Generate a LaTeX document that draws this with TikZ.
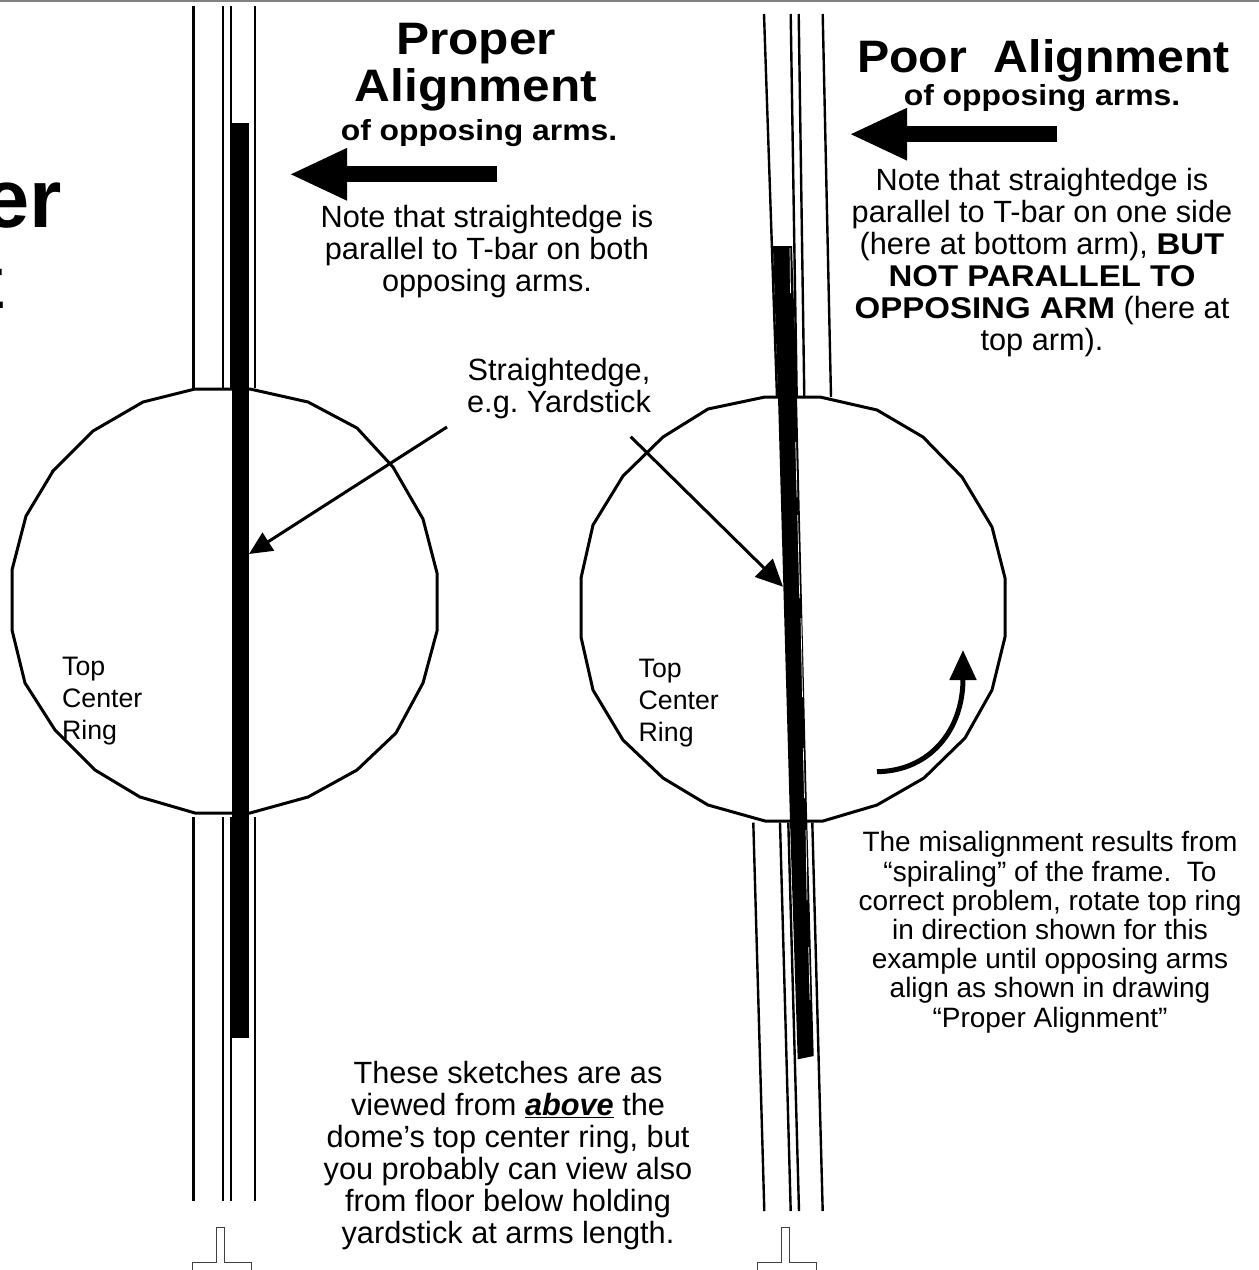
\documentclass[tikz,border=0pt]{standalone}
\usepackage{fontspec}
\setmainfont{Liberation Sans}
\usetikzlibrary{arrows.meta}
\newcommand{\widebold}[1]{{\fontsize{30}{32}\selectfont\bfseries\addfontfeature{FakeStretch=1.1}#1}}
\begin{document}
\begin{tikzpicture}[
  x=1pt, y=-1pt,
  every node/.style={inner sep=0pt, align=center},
  ringline/.style={draw, line width=3pt},
  armline/.style={draw, line width=2.4pt},
  tbar/.style={draw=black!75, line width=0.9pt},
  pointer/.style={draw, line width=3pt},
  fatarrow/.style={draw, line width=16pt, -{Triangle[length=58pt,width=48pt]}},
  titletext/.style={font=\fontsize{45.5}{47}\selectfont\bfseries\addfontfeature{FakeStretch=1.09}},
  subtext/.style={font=\fontsize{29}{31}\selectfont\bfseries\addfontfeature{FakeStretch=1.1}},
  bodytext/.style={font=\fontsize{30.7}{32}\selectfont},
  smalltext/.style={font=\fontsize{28}{29.2}\selectfont},
  ringtext/.style={font=\fontsize{26.7}{32}\selectfont, align=left}
]
  \useasboundingbox (0,0) rectangle (1259,1270);
  \fill[black!50] (0,0) rectangle (1259,2);

  % left sketch
  \foreach \xarm in {193.3,222.7,231,255} {
    \draw[armline] (\xarm,6) -- (\xarm,388);
    \draw[armline] (\xarm,817) -- (\xarm,1200.7);
  }
  \draw[ringline] (52,472) -- (93,431) -- (143,402) -- (195,389) -- (250,389) -- (308,402)
    -- (357,428) -- (393,467) -- (423,519) -- (437,573) -- (437,631) -- (423,683)
    -- (396,733) -- (357,770) -- (308,797) -- (250,813) -- (195,813) -- (140,797)
    -- (95,770) -- (55,730) -- (25,683) -- (12,630) -- (12,570) -- (26,516) -- (54,469.5);
  \fill (231.7,123) rectangle (249,1038);
  \draw[tbar] (192,1270) -- (192,1262) -- (216.7,1262) -- (216.7,1227.7) -- (224,1227.7)
    -- (224,1262) -- (251,1262) -- (251,1270) -- cycle;

  % right sketch
  \draw[armline] (764,14) -- (777,397);
  \draw[armline] (790.7,14) -- (796.7,397);
  \draw[armline] (798.7,14) -- (804.3,397);
  \draw[armline] (822.7,14) -- (831,397);
  \draw[armline] (753.3,822.7) -- (764.3,1211);
  \draw[armline] (780,822.7) -- (790.7,1211);
  \draw[armline] (788.3,822.7) -- (799,1211);
  \draw[armline] (812.3,822.7) -- (822.7,1211);
  \draw[ringline] (765,397) -- (820,397) -- (877,410) -- (923,437) -- (962,477) -- (992,527)
    -- (1005,578) -- (1005,637) -- (992,690) -- (965,738) -- (924,778) -- (877,805)
    -- (823,821) -- (765,821) -- (708,805) -- (663,778) -- (623,740) -- (593,690)
    -- (581,637) -- (581,578) -- (593,525) -- (623,476) -- (663,437) -- (708,409) -- cycle;
  \fill (773,246) -- (792,246) -- (797,397) -- (807,813) -- (813.7,1056) -- (797.7,1059.3)
    -- (790,821) -- (778,397) -- cycle;
  \foreach \xa/\ya/\xb/\yb in {790/248/790.5/293,795.7/442/797/497,797.7/515/799.7/598,
      801/618/802.5/697,803.3/748/804.5/798,806/830/807/900,808.7/947/810/1000} {
    \draw[white, line width=0.7pt] (\xa,\ya) -- (\xb,\yb);
  }
  \draw[tbar] (757.3,1270) -- (757.3,1262.3) -- (781.7,1262.3) -- (781.7,1227.7) -- (789.3,1227.7)
    -- (789.3,1262.3) -- (816.7,1262.3) -- (816.7,1270) -- cycle;

  % arrows
  \coordinate (edgeFrom) at (447,427);
  \coordinate (edgeTo) at (249,554);
  \coordinate (poorFrom) at (630.7,436.7);
  \coordinate (poorTo) at (783,586.7);
  \coordinate (turnFrom) at (877,771.7);
  \coordinate (turnTo) at (963,650);
  \coordinate (properTail) at (496.7,174.3);
  \coordinate (properTip) at (289,174.3);
  \coordinate (poorTail) at (1056.7,134.2);
  \coordinate (poorTip) at (849,134.2);
  \draw[pointer, -{Triangle[length=23pt,width=21pt]}] (edgeFrom) -- (edgeTo);
  \draw[pointer, -{Triangle[length=27pt,width=25pt]}] (poorFrom) -- (poorTo);
  \draw[line width=5pt, -{Triangle[length=30pt,width=26pt]}] (turnFrom)
    .. controls (930,771) and (963,730) .. (turnTo);
  \draw[fatarrow] (properTail) -- (properTip);
  \draw[fatarrow] (poorTail) -- (poorTip);

  % text
  \node[font=\fontsize{83}{85}\selectfont\bfseries, anchor=base east] (cutword) at (62,227) {er};
  \node[font=\fontsize{57}{57}\selectfont\bfseries, anchor=base east] (cutletter) at (5.5,308) {E};
  \node[titletext, anchor=north] (properTitle) at (476,23) {Proper\\Alignment};
  \node[subtext, anchor=north] (properSub) at (479,119) {of opposing arms.};
  \node[bodytext, anchor=north] (properNote) at (487,205.4) {Note that straightedge is\\parallel to T-bar on both\\opposing arms.};
  \node[bodytext, anchor=north] (edgeLabel) at (559,358) {Straightedge,\\e.g.\ Yardstick};
  \node[ringtext, anchor=north west] (ringLeft) at (62,657) {Top\\Center\\Ring};
  \node[ringtext, anchor=north west] (ringRight) at (638.5,659) {Top\\Center\\Ring};
  \node[titletext, anchor=north] (poorTitle) at (1043.5,39) {\addfontfeature{FakeStretch=1.06}Poor\ \ Alignment};
  \node[subtext, anchor=north] (poorSub) at (1042,84) {of opposing arms.};
  \node[bodytext, anchor=north] (poorNote) at (1042,168) {Note that straightedge is\\parallel to T-bar on one side\\(here at bottom arm), \widebold{BUT}\\\widebold{NOT PARALLEL TO}\\\widebold{OPPOSING ARM} (here at\\top arm).};
  \node[smalltext, anchor=north] (spiralNote) at (1050,831.3) {The misalignment results from\\“spiraling” of the frame.\ \ To\\correct problem, rotate top ring\\in direction shown for this\\example until opposing arms\\align as shown in drawing\\“Proper Alignment”};
  \node[bodytext, anchor=north] (viewNote) at (508,1061.5) {These sketches are as\\viewed from \underline{\textbf{\textit{above}}} the\\dome’s top center ring, but\\you probably can view also\\from floor below holding\\yardstick at arms length.};
\end{tikzpicture}
\end{document}
